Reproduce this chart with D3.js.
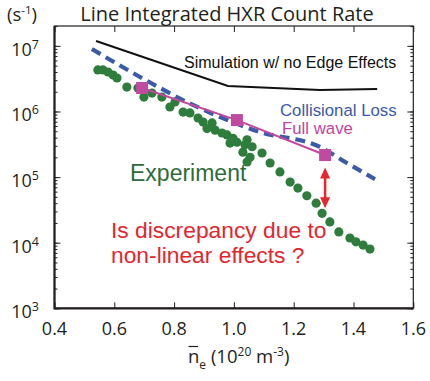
<!DOCTYPE html>
<html><head><meta charset="utf-8">
<script src="https://cdn.jsdelivr.net/npm/d3@7"></script>
<style>body{margin:0;background:#fff}svg{display:block}</style>
</head><body>
<svg id="c" width="430" height="381"></svg>
<script>
// ---- data ----
const xTicks = [0.4, 0.6, 0.8, 1.0, 1.2, 1.4, 1.6];
const xTickLabels = ["0.4", "0.6", "0.8", "1.0", "1.2", "1.4", "1.6"];
const yTickExps = [3, 4, 5, 6, 7];
const simX = [0.539, 0.980, 1.288, 1.479];
const simY = [1.19e7, 2.45e6, 2.13e6, 2.2e6];
const collX = [0.525, 0.686, 0.863, 1.087, 1.288, 1.378, 1.472];
const collY = [8.97e6, 3.36e6, 1.26e6, 4.87e5, 2.88e5, 1.64e5, 9.3e4];
const fwX = [0.693, 1.010, 1.305];
const fwY = [2.28e6, 7.4e5, 2.17e5];
const expX = [0.545,0.562,0.579,0.596,0.609,0.642,0.679,0.699,0.726,0.759,0.786,0.803,0.830,0.853,0.880,0.897,0.910,0.927,0.937,0.960,0.977,0.987,0.997,1.010,1.044,1.030,1.037,1.061,1.054,1.044,1.094,1.121,1.154,1.188,1.214,1.244,1.275,1.295,1.321,1.351,1.388,1.408,1.432,1.455];
const expY = [4.3e6,4.3e6,4.0e6,3.6e6,3.24e6,2.36e6,2.28e6,1.66e6,1.91e6,1.66e6,1.17e6,1.40e6,9.8e5,9.5e5,7.96e5,6.9e5,5.5e5,6.7e5,5.2e5,4.7e5,4.4e5,3.3e5,3.9e5,3.4e5,3.7e5,2.4e5,3.1e5,2.9e5,2.0e5,1.7e5,2.33e5,1.64e5,1.2e5,8.4e4,6.8e4,5.2e4,4.0e4,2.8e4,2.07e4,1.46e4,1.18e4,1.03e4,9.2e3,8.0e3];
const arrowX = 1.305, arrowTop = 1.4e5, arrowBottom = 3.35e4;

// ---- layout ----
const L = 54.5, R = 413.3, T = 26, B = 308.3;
const svg = d3.select("#c");
const x = d3.scaleLinear().domain([0.4, 1.6]).range([L, R]);
const y = d3.scaleLog().domain([1e3, 2.01e7]).range([B, T]);
const axisFont = "'Open Sans', 'Liberation Sans', sans-serif";
const dark = "#231f20";

const minorVals = [];
for (let e = 3; e < 8; e++) for (let m = 1; m <= 9; m++) { const v = m * Math.pow(10, e); if (v >= 1e3 && v <= 2e7) minorVals.push(v); }
function styleAxis(g){ g.select(".domain").remove(); g.selectAll("text").remove(); g.selectAll("line").attr("stroke", dark).attr("stroke-width", 1); }
svg.append("g").attr("transform", `translate(${L},0)`).call(d3.axisRight(y).tickValues(minorVals).tickSize(3)).call(styleAxis);
svg.append("g").attr("transform", `translate(${R},0)`).call(d3.axisLeft(y).tickValues(minorVals).tickSize(3)).call(styleAxis);
svg.append("g").attr("transform", `translate(${L},0)`).call(d3.axisRight(y).tickValues(yTickExps.map(e=>Math.pow(10,e))).tickSize(6)).call(styleAxis);
svg.append("g").attr("transform", `translate(${R},0)`).call(d3.axisLeft(y).tickValues(yTickExps.map(e=>Math.pow(10,e))).tickSize(6)).call(styleAxis);
svg.append("g").attr("transform", `translate(0,${B})`).call(d3.axisTop(x).tickValues(xTicks).tickSize(6)).call(styleAxis);
svg.append("g").attr("transform", `translate(0,${T})`).call(d3.axisBottom(x).tickValues(xTicks).tickSize(6)).call(styleAxis);

svg.append("rect").attr("x", L).attr("y", T).attr("width", R - L).attr("height", B - T)
  .attr("fill", "none").attr("stroke", dark).attr("stroke-width", 1.2);
svg.append("path").attr("d", `M${L},${T}V${B}H${R}`).attr("fill","none").attr("stroke", dark).attr("stroke-width", 2.2);

svg.append("g").selectAll("text").data(xTicks).join("text")
  .attr("x", d => x(d)).attr("y", B + 27).attr("text-anchor", "middle")
  .attr("font-family", axisFont).attr("font-size", 18).attr("fill", dark)
  .text((d, i) => xTickLabels[i]);

const yl = svg.append("g").selectAll("text").data(yTickExps).join("text")
  .attr("x", 39).attr("y", d => y(Math.pow(10, d)) + 10).attr("text-anchor", "end")
  .attr("font-family", axisFont).attr("font-size", 18).attr("fill", dark);
yl.append("tspan").text("10");
yl.append("tspan").attr("dy", -7).attr("font-size", 12.5).text(d => d);

svg.append("text").attr("x", 227).attr("y", 21).attr("text-anchor", "middle")
  .attr("font-family", axisFont).attr("font-size", 20).attr("fill", dark)
  .text("Line Integrated HXR Count Rate");
const un = svg.append("text").attr("x", 7).attr("y", 21).attr("font-family", axisFont).attr("font-size", 18.5).attr("fill", dark);
un.append("tspan").text("(s");
un.append("tspan").attr("dy", -7).attr("font-size", 11.5).text("-1");
un.append("tspan").attr("dy", 7).text(")");

const xt = svg.append("text").attr("x", 188).attr("y", 363).attr("font-family", axisFont).attr("font-size", 18.5).attr("fill", dark);
xt.append("tspan").text("n");
xt.append("tspan").attr("dy", 6).attr("font-size", 12).text("e");
xt.append("tspan").attr("dy", -6).text(" (10");
xt.append("tspan").attr("dy", -7).attr("font-size", 12).text("20");
xt.append("tspan").attr("dy", 7).text(" m");
xt.append("tspan").attr("dy", -7).attr("font-size", 12).text("-3");
xt.append("tspan").attr("dy", 7).text(")");
svg.append("line").attr("x1", 188.5).attr("x2", 198).attr("y1", 346.5).attr("y2", 346.5).attr("stroke", dark).attr("stroke-width", 1.2);

const line = (xs, ys) => d3.line().x((d, i) => x(xs[i])).y((d, i) => y(ys[i]))(xs);
svg.append("path").attr("d", line(simX, simY)).attr("fill", "none").attr("stroke", "#111").attr("stroke-width", 2);

svg.append("g").selectAll("circle").data(expX).join("circle")
  .attr("cx", d => x(d)).attr("cy", (d, i) => y(expY[i])).attr("r", 4.6).attr("fill", "#2e7d3c");

svg.append("path").attr("d", d3.line().curve(d3.curveMonotoneX).x((d, i) => x(collX[i])).y((d, i) => y(collY[i]))(collX))
  .attr("fill", "none").attr("stroke", "#3b5ba8").attr("stroke-width", 4.2).attr("stroke-dasharray", "10,6");

svg.append("path").attr("d", line(fwX, fwY)).attr("fill", "none").attr("stroke", "#c4479f").attr("stroke-width", 2);
svg.append("g").selectAll("rect").data(fwX).join("rect")
  .attr("x", d => x(d) - 6).attr("y", (d, i) => y(fwY[i]) - 6).attr("width", 12).attr("height", 12).attr("fill", "#c04a9f");

const ax = x(arrowX), ay1 = y(arrowTop), ay2 = y(arrowBottom);
svg.append("line").attr("x1", ax).attr("x2", ax).attr("y1", ay1 + 8).attr("y2", ay2 - 8).attr("stroke", "#e8262d").attr("stroke-width", 2.5);
svg.append("path").attr("d", `M${ax},${ay1}L${ax-5},${ay1+11}L${ax+5},${ay1+11}Z`).attr("fill", "#e8262d");
svg.append("path").attr("d", `M${ax},${ay2}L${ax-5},${ay2-11}L${ax+5},${ay2-11}Z`).attr("fill", "#e8262d");

const lab = "'Liberation Sans', Arial, sans-serif";
svg.append("text").attr("x", 184).attr("y", 68).attr("font-family", lab).attr("font-size", 16).attr("fill", "#111").text("Simulation w/ no Edge Effects");
svg.append("text").attr("x", 280).attr("y", 116).attr("font-family", lab).attr("font-size", 16.8).attr("fill", "#3c5aa8").text("Collisional Loss");
svg.append("text").attr("x", 282).attr("y", 134).attr("font-family", lab).attr("font-size", 16.8).attr("fill", "#c0449f").text("Full wave");
svg.append("text").attr("x", 130).attr("y", 181).attr("font-family", lab).attr("font-size", 23).attr("fill", "#2f6b3a").text("Experiment");
svg.append("text").attr("x", 111).attr("y", 238).attr("font-family", lab).attr("font-size", 22.8).attr("fill", "#e3262d").text("Is discrepancy due to");
svg.append("text").attr("x", 111).attr("y", 263).attr("font-family", lab).attr("font-size", 22.8).attr("fill", "#e3262d").text("non-linear effects ?");
</script>
</body></html>
